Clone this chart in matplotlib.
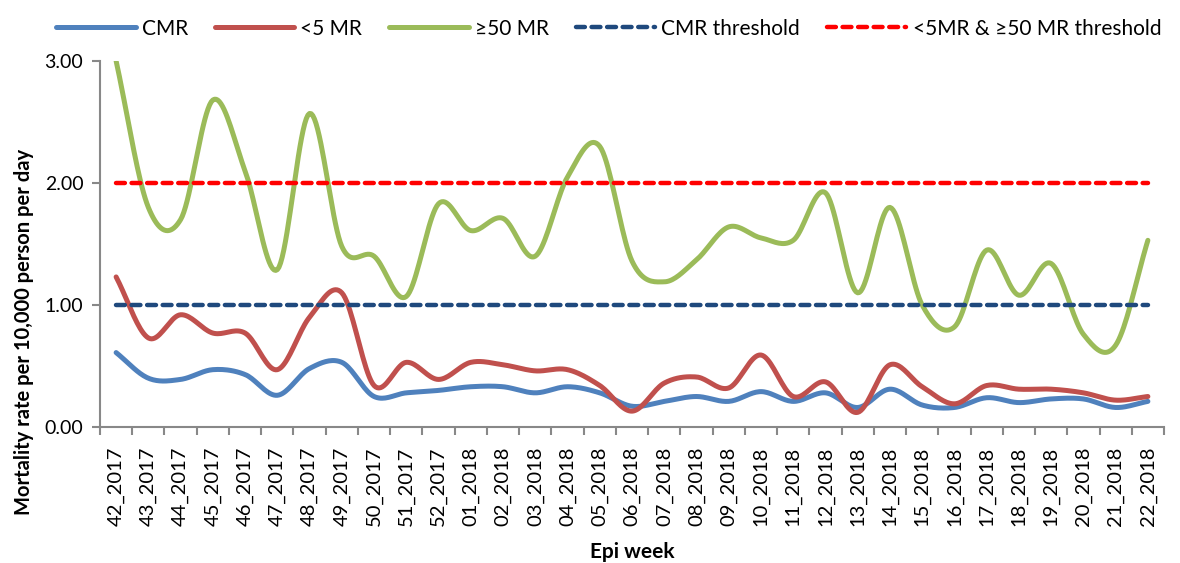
import numpy as np
from matplotlib import pyplot as plt

weeks = ['42_2017', '43_2017', '44_2017', '45_2017', '46_2017', '47_2017', '48_2017',
         '49_2017', '50_2017', '51_2017', '52_2017', '01_2018', '02_2018', '03_2018',
         '04_2018', '05_2018', '06_2018', '07_2018', '08_2018', '09_2018', '10_2018',
         '11_2018', '12_2018', '13_2018', '14_2018', '15_2018', '16_2018', '17_2018',
         '18_2018', '19_2018', '20_2018', '21_2018', '22_2018']
cmr = [0.61, 0.40, 0.39, 0.47, 0.43, 0.26, 0.48, 0.53, 0.25, 0.28, 0.30, 0.33, 0.33,
       0.28, 0.33, 0.28, 0.17, 0.21, 0.25, 0.21, 0.29, 0.21, 0.28, 0.16, 0.31, 0.18,
       0.16, 0.24, 0.20, 0.23, 0.23, 0.16, 0.21]
u5mr = [1.23, 0.73, 0.92, 0.77, 0.77, 0.47, 0.90, 1.10, 0.34, 0.53, 0.39, 0.53, 0.51,
        0.46, 0.47, 0.34, 0.13, 0.36, 0.41, 0.32, 0.59, 0.25, 0.37, 0.12, 0.51, 0.33,
        0.19, 0.34, 0.31, 0.31, 0.28, 0.22, 0.25]
o50mr = [3.00, 1.80, 1.70, 2.68, 2.10, 1.29, 2.57, 1.48, 1.40, 1.07, 1.83, 1.61, 1.71,
         1.40, 2.05, 2.30, 1.36, 1.19, 1.37, 1.64, 1.55, 1.53, 1.92, 1.10, 1.80, 1.00,
         0.82, 1.45, 1.08, 1.34, 0.76, 0.67, 1.53]
cmr_threshold = 1.0
other_threshold = 2.0


def smooth(y, n=20):
    # excel-like smoothed line (catmull-rom through the points)
    y = np.asarray(y, dtype=float)
    x = np.arange(len(y), dtype=float)
    p = np.concatenate([[2 * y[0] - y[1]], y, [2 * y[-1] - y[-2]]])
    xs, ys = [], []
    for i in range(len(y) - 1):
        t = np.linspace(0, 1, n, endpoint=False)
        p0, p1, p2, p3 = p[i], p[i + 1], p[i + 2], p[i + 3]
        seg = 0.5 * ((2 * p1) + (-p0 + p2) * t + (2 * p0 - 5 * p1 + 4 * p2 - p3) * t ** 2
                     + (-p0 + 3 * p1 - 3 * p2 + p3) * t ** 3)
        xs.append(x[i] + t)
        ys.append(seg)
    xs.append([x[-1]])
    ys.append([y[-1]])
    return np.concatenate(xs), np.concatenate(ys)


plt.rcParams['font.family'] = ['Lato', 'DejaVu Sans']

fig = plt.figure(figsize=(11.8, 5.63), dpi=100)
ax = fig.add_axes([100 / 1180, 1 - 427 / 563, 1064 / 1180, 366 / 563])

idx = np.arange(len(weeks))
for vals, col, lab in [(cmr, '#4F81BD', 'CMR'), (u5mr, '#C0504D', '<5 MR'),
                       (o50mr, '#9BBB59', '≥50 MR')]:
    sx, sy = smooth(vals)
    ax.plot(sx, sy, color=col, lw=3.6, label=lab, solid_capstyle='round')

ax.plot(idx, [cmr_threshold] * len(weeks), color='#1F497D', lw=3.2, ls=(0, (2.0, 1.5)),
        dash_capstyle='round', label='CMR threshold')
ax.plot(idx, [other_threshold] * len(weeks), color='#FF0000', lw=3.2, ls=(0, (2.0, 1.5)),
        dash_capstyle='round', label='<5MR & ≥50 MR threshold')

ax.set_xlim(-0.5, len(weeks) - 0.5)
ax.set_ylim(0, 3)
ax.set_yticks([0, 1, 2, 3])
ax.set_yticklabels(['0.00', '1.00', '2.00', '3.00'], fontsize=14)
ax.set_xticks(idx)
ax.set_xticklabels(weeks, rotation=90, fontsize=14.5)
ax.set_xticks(np.arange(-0.5, len(weeks), 1), minor=True)
ax.tick_params(axis='x', which='major', length=0, pad=14)
ax.tick_params(axis='x', which='minor', length=6, color='#888888', width=1.5)
ax.tick_params(axis='y', length=6, color='#888888', width=1.5, pad=6)

for s in ['top', 'right']:
    ax.spines[s].set_visible(False)
for s in ['left', 'bottom']:
    ax.spines[s].set_color('#888888')
    ax.spines[s].set_linewidth(1.5)

ax.set_xlabel('Epi week', fontsize=15, fontweight='bold')
ax.xaxis.set_label_coords(0.5, -(542 - 427) / 366)
ax.set_ylabel('Mortality rate per 10,000 person per day', fontsize=14.5, fontweight='bold')
ax.yaxis.set_label_coords(-(100 - 34) / 1064, (427 - 332) / 366)

fig.legend(loc='upper right', bbox_to_anchor=(1.0, 1.0), ncol=5, frameon=False,
           fontsize=15, handlelength=3.8, columnspacing=1.3, handletextpad=0.3)

fig.savefig('out.png', dpi=100)
